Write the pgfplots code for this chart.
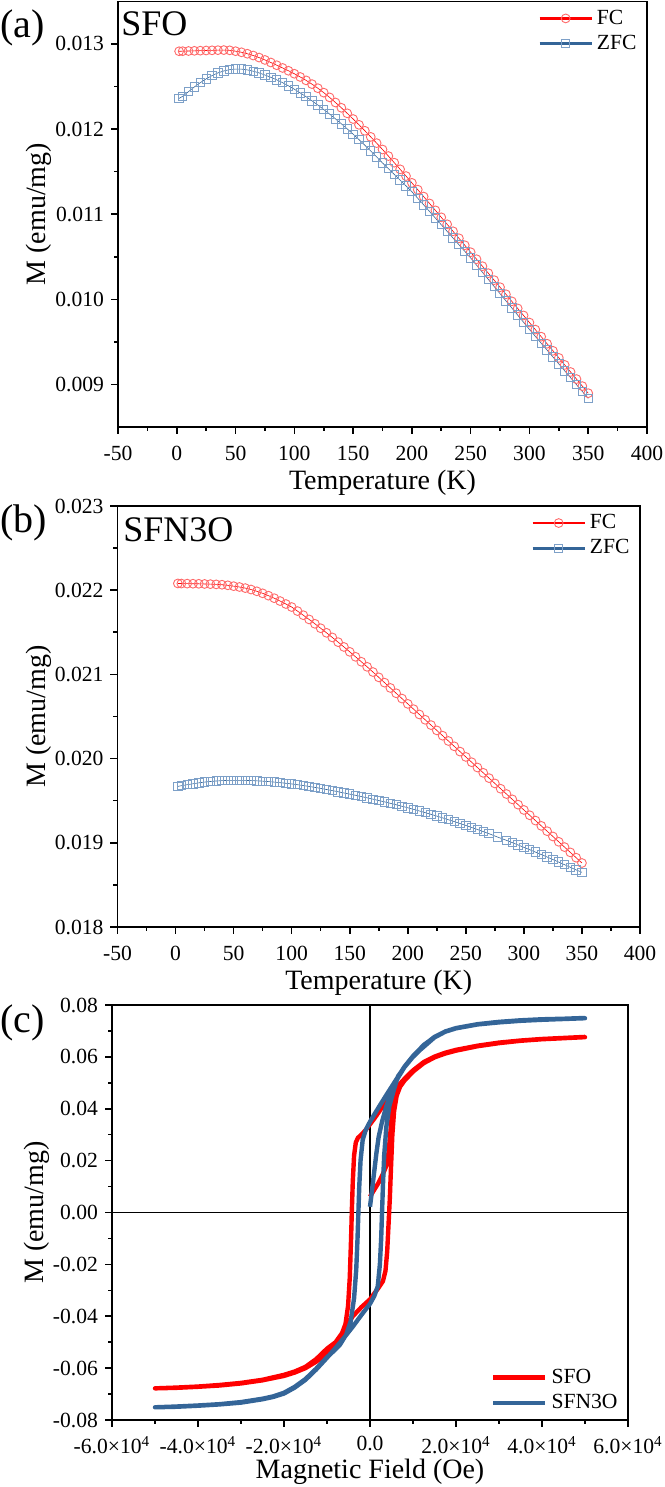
\documentclass[border=0pt]{standalone}
\usepackage{fontspec}
\setmainfont{Liberation Serif}
\usepackage{pgfplots}
\pgfplotsset{compat=1.18}

\definecolor{myred}{RGB}{255,0,0}
\definecolor{myblue}{RGB}{52,101,152}
\definecolor{mkred}{RGB}{255,105,105}
\definecolor{mkblue}{RGB}{125,160,200}

\pgfplotsset{
 common/.style={
  scale only axis,
  anchor=south west,
  axis line style={line width=0.8pt},
  tick align=outside, tick pos=left,
  major tick length=3.5pt, minor tick length=2pt,
  every tick/.style={black, line width=0.8pt},
  minor tick num=1,
  /pgf/number format/assume math mode=true,
  tick label style={font=\fontsize{10.8}{13}\selectfont},
  label style={font=\fontsize{14}{16}\selectfont},
  ylabel shift=-5pt,
  legend style={draw=none, fill=none, font=\fontsize{10.8}{13}\selectfont},
  legend cell align=left,
  legend image code/.code={\draw[mark repeat=2,mark phase=2,##1] plot coordinates {(0pt,0pt) (13pt,0pt) (26pt,0pt)};},
 },
 fcstyle/.style={myred, line width=0.3pt, mark=o, mark size=2.2pt, mark options={draw=mkred, line width=0.45pt, fill=none}},
 zfcstyle/.style={myblue, line width=0.3pt, mark=square, mark size=2.1pt, mark options={draw=mkblue, line width=0.45pt, fill=none}},
}

\pgfplotstableread{
T M
2 0.012914
5 0.012915
10 0.012917
15 0.012919
20 0.012921
25 0.012923
30 0.012925
35 0.012927
40 0.012928
45 0.012925
50 0.012915
55 0.012902
60 0.012885
65 0.012864
70 0.012840
75 0.012812
80 0.012782
85 0.012750
90 0.012718
95 0.012685
100 0.012650
105 0.012612
110 0.012572
115 0.012528
120 0.012480
125 0.012428
130 0.012372
135 0.012312
140 0.012250
145 0.012185
150 0.012118
155 0.012050
160 0.011980
165 0.011908
170 0.011835
175 0.011760
180 0.011683
185 0.011605
190 0.011527
195 0.011448
200 0.011368
205 0.011288
210 0.011207
215 0.011126
220 0.011045
225 0.010963
230 0.010881
235 0.010799
240 0.010717
245 0.010635
250 0.010553
255 0.010471
260 0.010389
265 0.010307
270 0.010225
275 0.010142
280 0.010059
285 0.009976
290 0.009893
295 0.009810
300 0.009727
305 0.009644
310 0.009561
315 0.009478
320 0.009395
325 0.009312
330 0.009229
335 0.009146
340 0.009063
345 0.008980
350 0.008897
}\aFC

\pgfplotstableread{
T M
2 0.012360
5 0.012385
10 0.012440
15 0.012495
20 0.012545
25 0.012590
30 0.012628
35 0.012660
40 0.012683
45 0.012698
50 0.012705
55 0.012704
60 0.012695
65 0.012680
70 0.012660
75 0.012635
80 0.012608
85 0.012578
90 0.012545
95 0.012508
100 0.012468
105 0.012425
110 0.012380
115 0.012332
120 0.012282
125 0.012230
130 0.012176
135 0.012120
140 0.012062
145 0.012002
150 0.011940
155 0.011876
160 0.011810
165 0.011742
170 0.011673
175 0.011602
180 0.011535
185 0.011468
190 0.011400
195 0.011332
200 0.011264
205 0.011187
210 0.011110
215 0.011032
220 0.010954
225 0.010876
230 0.010798
235 0.010720
240 0.010642
245 0.010564
250 0.010486
255 0.010402
260 0.010318
265 0.010234
270 0.010150
275 0.010066
280 0.009982
285 0.009898
290 0.009814
295 0.009730
300 0.009646
305 0.009565
310 0.009484
315 0.009403
320 0.009322
325 0.009241
330 0.009160
335 0.009079
340 0.008998
345 0.008917
350 0.008836
}\aZFC

\pgfplotstableread{
T M
2 0.022080
5 0.022079
10 0.022078
15 0.022077
20 0.022076
25 0.022074
30 0.022072
35 0.022069
40 0.022065
45 0.022058
50 0.022048
55 0.022038
60 0.022025
65 0.022008
70 0.021987
75 0.021963
80 0.021935
85 0.021905
90 0.021871
95 0.021836
100 0.021800
105 0.021752
110 0.021703
115 0.021653
120 0.021601
125 0.021548
130 0.021494
135 0.021439
140 0.021383
145 0.021326
150 0.021268
155 0.021209
160 0.021150
165 0.021090
170 0.021028
175 0.020965
180 0.020902
185 0.020839
190 0.020776
195 0.020713
200 0.020650
205 0.020587
210 0.020524
215 0.020461
220 0.020398
225 0.020335
230 0.020272
235 0.020209
240 0.020146
245 0.020083
250 0.020020
255 0.019957
260 0.019894
265 0.019831
270 0.019768
275 0.019705
280 0.019642
285 0.019579
290 0.019516
295 0.019453
300 0.019390
305 0.019327
310 0.019264
315 0.019201
320 0.019138
325 0.019075
330 0.019012
335 0.018949
340 0.018886
345 0.018823
350 0.018760
}\bFC

\pgfplotstableread{
T M
2 0.019670
5 0.019678
10 0.019690
15 0.019701
20 0.019712
25 0.019721
30 0.019728
35 0.019734
40 0.019738
45 0.019741
50 0.019742
55 0.019742
60 0.019741
65 0.019739
70 0.019736
75 0.019732
80 0.019727
85 0.019721
90 0.019714
95 0.019707
100 0.019699
105 0.019690
110 0.019680
115 0.019669
120 0.019658
125 0.019646
130 0.019633
135 0.019620
140 0.019606
145 0.019592
150 0.019578
155 0.019564
160 0.019549
165 0.019534
170 0.019518
175 0.019502
180 0.019486
185 0.019469
190 0.019452
195 0.019434
200 0.019416
205 0.019397
210 0.019378
215 0.019358
220 0.019338
225 0.019317
230 0.019296
235 0.019274
240 0.019252
245 0.019229
250 0.019206
255 0.019182
260 0.019158
265 0.019133
270 0.019108
277 0.019070
285 0.019029
290 0.019002
295 0.018974
300 0.018946
305 0.018918
310 0.018889
315 0.018860
320 0.018831
325 0.018801
330 0.018771
335 0.018740
340 0.018709
345 0.018678
350 0.018650
}\bZFC

\pgfplotstableread{
H M
0 0.0061
1000 0.0088
2000 0.0115
3000 0.0148
3800 0.0180
4300 0.0230
4700 0.0300
5000 0.0360
5400 0.0415
6000 0.0455
7000 0.0485
8000 0.0508
10000 0.0543
12500 0.0576
15000 0.0598
17500 0.0613
20000 0.0624
25000 0.0641
30000 0.0653
35000 0.0662
40000 0.0668
45000 0.0672
50000 0.0676
45000 0.0673
40000 0.0669
35000 0.0663
30000 0.0655
25000 0.0643
20000 0.0627
17500 0.0616
15000 0.0601
12500 0.0580
10000 0.0548
8000 0.0515
6500 0.0488
5000 0.0455
3000 0.0410
1000 0.0362
0 0.0340
-1000 0.0318
-2000 0.0300
-2800 0.0288
-3300 0.0270
-3700 0.0220
-4000 0.0120
-4200 0.0020
-4400 -0.0100
-4700 -0.0250
-5100 -0.0360
-5700 -0.0430
-6500 -0.0465
-8000 -0.0500
-10000 -0.0525
-12500 -0.0565
-15000 -0.0595
-17500 -0.0613
-20000 -0.0626
-25000 -0.0645
-30000 -0.0657
-35000 -0.0665
-40000 -0.0671
-45000 -0.0675
-50000 -0.0678
-45000 -0.0676
-40000 -0.0672
-35000 -0.0667
-30000 -0.0659
-25000 -0.0647
-20000 -0.0630
-17500 -0.0617
-15000 -0.0600
-12500 -0.0575
-10000 -0.0545
-8000 -0.0512
-7000 -0.0490
-5500 -0.0440
-4000 -0.0400
-2000 -0.0365
0 -0.0335
1000 -0.0312
2000 -0.0290
3000 -0.0265
3600 -0.0225
4000 -0.0150
4300 -0.0050
4600 0.0050
4900 0.0180
5200 0.0300
5600 0.0390
6200 0.0450
7000 0.0485
8000 0.0510
10000 0.0545
12500 0.0578
15000 0.0600
17500 0.0615
20000 0.0626
25000 0.0642
30000 0.0654
35000 0.0663
40000 0.0669
45000 0.0673
50000 0.0677
}\cSFO

\pgfplotstableread{
H M
0 0.0022
500 0.0090
1000 0.0160
1500 0.0230
2000 0.0290
2800 0.0350
3800 0.0410
5000 0.0465
6200 0.0511
8000 0.0560
10000 0.0600
11600 0.0626
15000 0.0675
17500 0.0697
20000 0.0710
25000 0.0725
30000 0.0733
35000 0.0739
40000 0.0743
45000 0.0746
50000 0.0749
45000 0.0747
40000 0.0744
35000 0.0740
30000 0.0734
25000 0.0726
20000 0.0711
17500 0.0698
15000 0.0677
12500 0.0645
10000 0.0603
8000 0.0562
6200 0.0515
4000 0.0458
2000 0.0405
800 0.0372
0 0.0350
-1000 0.0318
-1700 0.0280
-2200 0.0200
-2500 0.0100
-2700 0.0000
-2900 -0.0100
-3200 -0.0220
-3700 -0.0330
-4500 -0.0420
-5500 -0.0470
-7000 -0.0510
-8500 -0.0535
-10000 -0.0558
-12500 -0.0602
-15000 -0.0642
-17500 -0.0672
-20000 -0.0695
-22500 -0.0709
-25000 -0.0718
-30000 -0.0731
-35000 -0.0739
-40000 -0.0744
-45000 -0.0748
-50000 -0.0751
-45000 -0.0749
-40000 -0.0745
-35000 -0.0740
-30000 -0.0733
-25000 -0.0720
-22500 -0.0711
-20000 -0.0698
-17500 -0.0675
-15000 -0.0645
-12500 -0.0605
-10000 -0.0560
-8000 -0.0522
-6000 -0.0482
-4000 -0.0440
-2000 -0.0395
0 -0.0352
1000 -0.0322
1800 -0.0285
2300 -0.0200
2600 -0.0100
2800 0.0000
3000 0.0100
3300 0.0220
3800 0.0330
4500 0.0410
5500 0.0470
6500 0.0525
8000 0.0560
10000 0.0602
12500 0.0646
15000 0.0676
17500 0.0698
20000 0.0711
25000 0.0726
30000 0.0735
35000 0.0741
40000 0.0745
45000 0.0747
50000 0.0750
}\cSFNO

\begin{document}
\begin{tikzpicture}
\useasboundingbox (0,0) rectangle (332pt,743.5pt);

% ---------------- (a) ----------------
\begin{axis}[common,
  at={(59pt,530pt)}, width=264.5pt, height=212.8pt,
  xmin=-50, xmax=400, ymin=0.0085, ymax=0.0135,
  xtick={-50,0,50,100,150,200,250,300,350,400},
  ytick={0.009,0.010,0.011,0.012,0.013},
  scaled y ticks=false,
  yticklabel style={/pgf/number format/.cd, fixed, fixed zerofill, precision=3},
  xticklabel style={yshift=-2.5pt},
  xlabel shift=-2pt,
  xlabel={Temperature (K)}, ylabel={M (emu/mg)},
  legend style={at={(1,1)}, anchor=north east},
]
\addlegendimage{myred, line width=1.3pt, mark=o, mark size=2.2pt, mark options={draw=mkred, fill=white, line width=0.45pt}}
\addlegendentry{FC}
\addlegendimage{myblue, line width=1.3pt, mark=square, mark size=2.1pt, mark options={draw=mkblue, fill=white, line width=0.45pt}}
\addlegendentry{ZFC}
\addplot[fcstyle, forget plot] table[x=T, y=M] {\aFC};
\addplot[zfcstyle, forget plot] table[x=T, y=M] {\aZFC};
\end{axis}

% ---------------- (b) ----------------
\begin{axis}[common,
  at={(58.75pt,280pt)}, width=261.25pt, height=210.5pt,
  xmin=-50, xmax=400, ymin=0.018, ymax=0.023,
  xtick={-50,0,50,100,150,200,250,300,350,400},
  ytick={0.018,0.019,0.020,0.021,0.022,0.023},
  scaled y ticks=false,
  yticklabel style={/pgf/number format/.cd, fixed, fixed zerofill, precision=3},
  xticklabel style={yshift=-2.5pt},
  xlabel shift=-2pt,
  xlabel={Temperature (K)}, ylabel={M (emu/mg)},
  legend style={at={(1,1)}, anchor=north east},
]
\addlegendimage{myred, line width=1.3pt, mark=o, mark size=2.2pt, mark options={draw=mkred, fill=white, line width=0.45pt}}
\addlegendentry{FC}
\addlegendimage{myblue, line width=1.3pt, mark=square, mark size=2.1pt, mark options={draw=mkblue, fill=white, line width=0.45pt}}
\addlegendentry{ZFC}
\addplot[fcstyle, forget plot] table[x=T, y=M] {\bFC};
\addplot[zfcstyle, forget plot] table[x=T, y=M] {\bZFC};
\end{axis}

% ---------------- (c) ----------------
\begin{axis}[common,
  at={(56pt,33.5pt)}, width=258pt, height=207.5pt,
  xmin=-60000, xmax=60000, ymin=-0.08, ymax=0.08,
  xtick={-60000,-40000,-20000,0,20000,40000,60000},
  xticklabels={-6.0×10\textsuperscript{4},-4.0×10\textsuperscript{4},-2.0×10\textsuperscript{4},0.0,2.0×10\textsuperscript{4},4.0×10\textsuperscript{4},6.0×10\textsuperscript{4}},
  ytick={-0.08,-0.06,-0.04,-0.02,0,0.02,0.04,0.06,0.08},
  scaled x ticks=false, scaled y ticks=false,
  yticklabel style={/pgf/number format/.cd, fixed, fixed zerofill, precision=2},
  xticklabel style={yshift=-1pt},
  xlabel shift=-4.5pt,
  xlabel={Magnetic Field (Oe)}, ylabel={M (emu/mg)},
  legend style={at={(1,0)}, anchor=south east},
]
\draw[black, line width=0.6pt] (axis cs:0,-0.08) -- (axis cs:0,0.08);
\draw[black, line width=0.6pt] (axis cs:-60000,0) -- (axis cs:60000,0);
\addplot[myred, line width=2.2pt, no marks, line join=round] table[x=H, y=M] {\cSFO};
\addlegendentry{SFO}
\addplot[myblue, line width=2.2pt, no marks, line join=round] table[x=H, y=M] {\cSFNO};
\addlegendentry{SFN3O}
\end{axis}

\node[anchor=base west, inner sep=0pt, font=\fontsize{20}{22}\selectfont] at (0pt,724.5pt) {(a)};
\node[anchor=base west, inner sep=0pt, font=\fontsize{18}{20}\selectfont] at (60.5pt,725.5pt) {SFO};
\node[anchor=base west, inner sep=0pt, font=\fontsize{20}{22}\selectfont] at (0pt,477pt) {(b)};
\node[anchor=base west, inner sep=0pt, font=\fontsize{18}{20}\selectfont] at (61.5pt,472.6pt) {SFN3O};
\node[anchor=base west, inner sep=0pt, font=\fontsize{20}{22}\selectfont] at (0pt,227pt) {(c)};
\end{tikzpicture}
\end{document}
